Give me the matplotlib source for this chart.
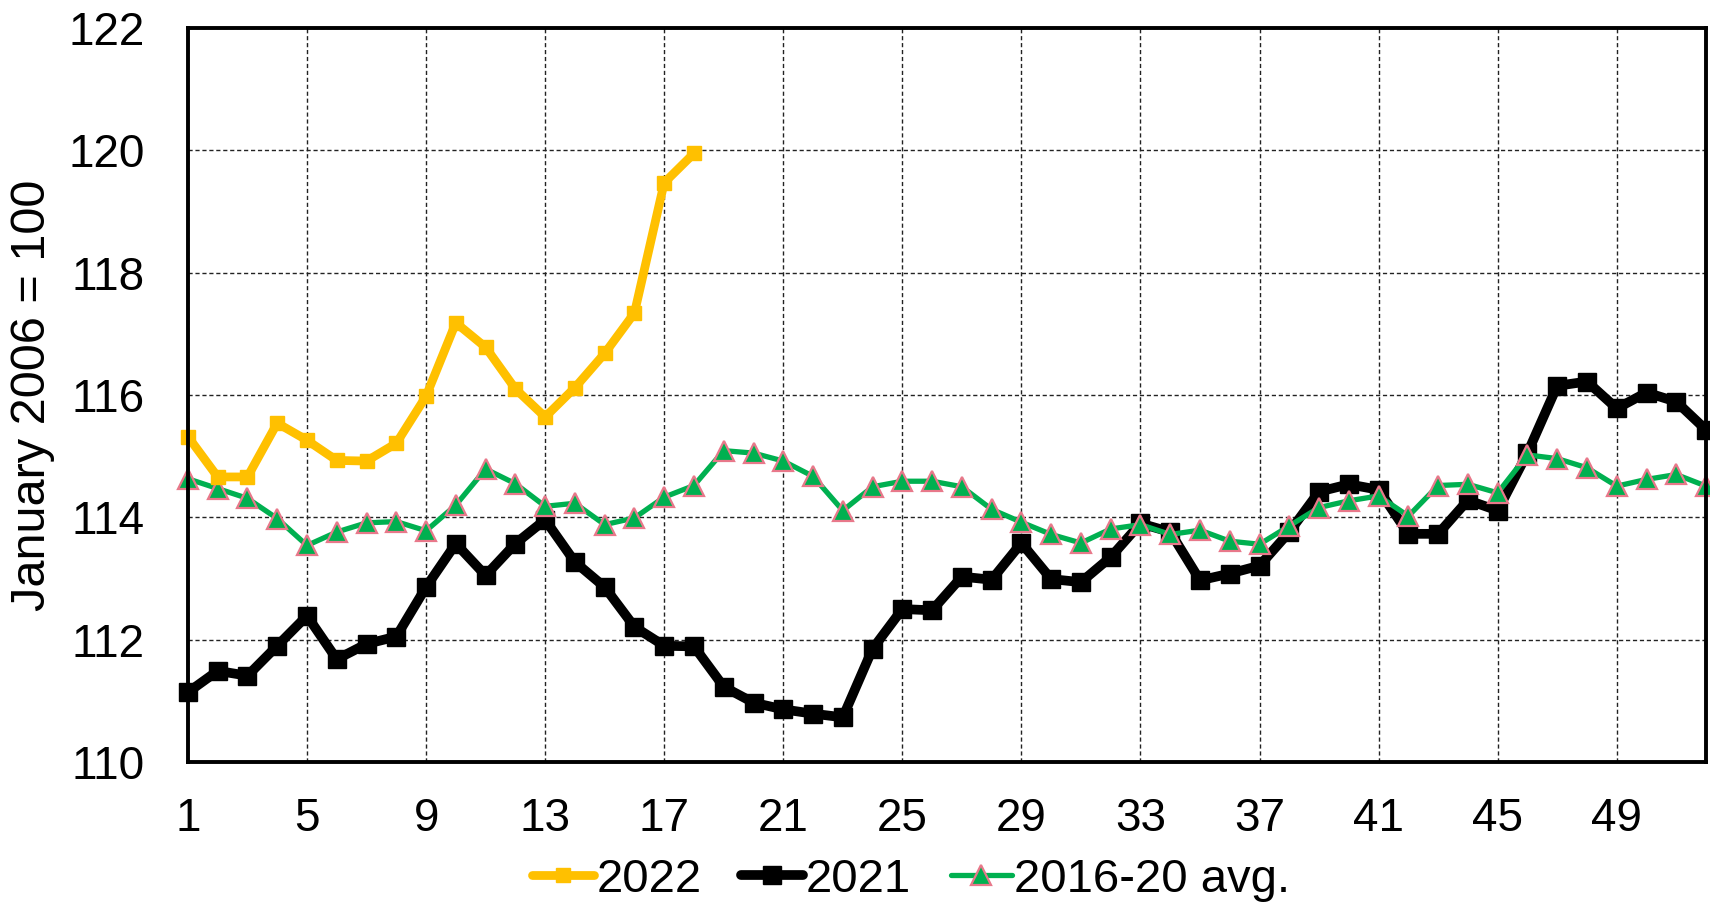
import matplotlib
matplotlib.use('Agg')
import matplotlib.pyplot as plt
import numpy as np

plt.rcParams['font.family'] = ['Liberation Sans', 'DejaVu Sans']

weeks = np.arange(1, 53)

y2022 = [115.32, 114.66, 114.66, 115.54, 115.26, 114.93, 114.92, 115.21, 115.98,
         117.18, 116.78, 116.10, 115.64, 116.12, 116.68, 117.34, 119.47, 119.95]

y2021 = [111.14, 111.49, 111.41, 111.90, 112.39, 111.68, 111.93, 112.05, 112.86,
         113.57, 113.05, 113.57, 113.96, 113.27, 112.86, 112.21, 111.90, 111.89,
         111.23, 110.97, 110.86, 110.79, 110.73, 111.85, 112.50, 112.48, 113.03,
         112.98, 113.58, 112.99, 112.94, 113.35, 113.90, 113.76, 112.97, 113.08,
         113.21, 113.76, 114.42, 114.54, 114.45, 113.73, 113.73, 114.28, 114.11,
         115.05, 116.15, 116.22, 115.78, 116.04, 115.89, 115.43]

avg1620 = [114.63, 114.47, 114.31, 113.98, 113.54, 113.76, 113.91, 113.93, 113.78,
           114.20, 114.79, 114.55, 114.18, 114.23, 113.88, 113.99, 114.33, 114.52,
           115.09, 115.05, 114.92, 114.67, 114.11, 114.50, 114.59, 114.59, 114.50,
           114.13, 113.92, 113.72, 113.58, 113.81, 113.88, 113.72, 113.79, 113.61,
           113.56, 113.86, 114.16, 114.27, 114.35, 114.02, 114.52, 114.54, 114.40,
           115.02, 114.96, 114.81, 114.51, 114.62, 114.70, 114.51]

xticks = list(range(1, 53, 4))
yticks = list(range(110, 123, 2))

fig = plt.figure(figsize=(17.1, 9.08), dpi=100)
ax = fig.add_axes([0.1099, 0.1608, 0.8878, 0.8084])

l21, = ax.plot(weeks, y2021, color='black', lw=7, marker='s', ms=12.5,
               solid_joinstyle='round', solid_capstyle='round', clip_on=False, zorder=3)
lav, = ax.plot(weeks, avg1620, color='#00B050', lw=3.8, marker='^', ms=14,
               markerfacecolor='#00B050', markeredgecolor='#E8788A', markeredgewidth=1.6,
               solid_joinstyle='round', solid_capstyle='round', clip_on=False, zorder=4)
l22, = ax.plot(weeks[:len(y2022)], y2022, color='#FFC000', lw=6.3, marker='s', ms=10.5,
               solid_joinstyle='round', solid_capstyle='round', clip_on=False, zorder=5)

ax.set_xlim(1, 52)
ax.set_ylim(110, 122)
ax.set_xticks(xticks)
ax.set_yticks(yticks)
ax.tick_params(axis='both', length=0, labelsize=33)
ax.tick_params(axis='x', pad=25)
ax.tick_params(axis='y', pad=31)
ax.grid(True, color='#222222', lw=1.0, linestyle=(0, (3, 2)))
ax.set_axisbelow(True)
for s in ax.spines.values():
    s.set_linewidth(2.8)
    s.set_color('black')
    s.set_zorder(6)

ax.set_ylabel('January 2006 = 100', fontsize=35, labelpad=10)

fig.legend([l22, l21, lav], ['2022', '2021', '2016-20 avg.'], loc='center',
           bbox_to_anchor=(0.533, 0.031), ncol=3, frameon=False, fontsize=34,
           handlelength=1.3, handletextpad=0.05, columnspacing=0.85)

fig.savefig('out.png', dpi=100)
